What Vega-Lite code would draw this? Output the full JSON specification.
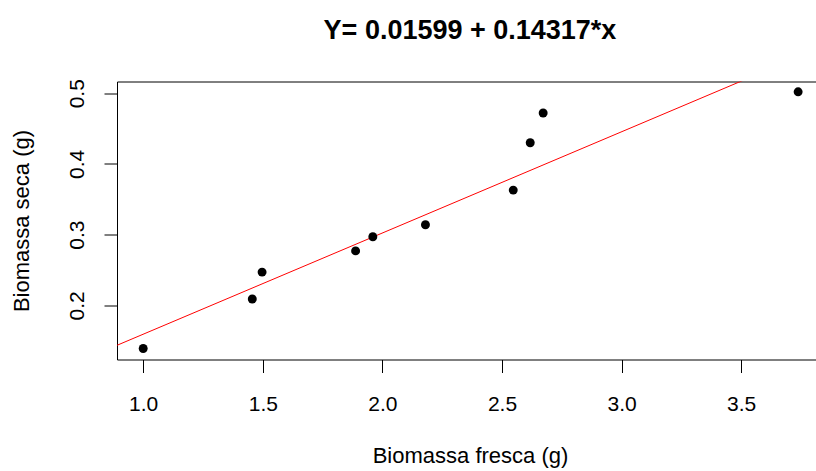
{
  "$schema": "https://vega.github.io/schema/vega-lite/v6.json",
  "width": 699,
  "height": 278,
  "autosize": {"type": "none"},
  "padding": {"left": 117, "top": 81.5, "right": 0, "bottom": 111.5},
  "background": "white",
  "config": {
    "view": {"stroke": null},
    "font": "Liberation Sans",
    "axis": {
      "domainColor": "#000000",
      "tickColor": "#000000",
      "labelColor": "#000000",
      "titleColor": "#000000",
      "grid": false,
      "labelFont": "Liberation Sans",
      "titleFont": "Liberation Sans",
      "labelFontSize": 21,
      "titleFontSize": 22,
      "titleFontWeight": "normal",
      "tickSize": 13,
      "domainWidth": 1,
      "tickWidth": 1
    }
  },
  "title": {
    "text": "Y= 0.01599 + 0.14317*x",
    "font": "Liberation Sans",
    "fontSize": 27,
    "fontWeight": "bold",
    "color": "#000000",
    "anchor": "middle",
    "frame": "group",
    "dx": 3.5,
    "dy": 32,
    "baseline": "alphabetic",
    "offset": 44.5
  },
  "datasets": {
    "pts": [
      {"fresca": 1.0, "seca": 0.139},
      {"fresca": 1.456, "seca": 0.209},
      {"fresca": 1.497, "seca": 0.247},
      {"fresca": 1.888, "seca": 0.277},
      {"fresca": 1.96, "seca": 0.297},
      {"fresca": 2.18, "seca": 0.314},
      {"fresca": 2.547, "seca": 0.363},
      {"fresca": 2.618, "seca": 0.43},
      {"fresca": 2.672, "seca": 0.472},
      {"fresca": 3.738, "seca": 0.502}
    ],
    "fit": [
      {"fresca": 0.85, "seca": 0.13769},
      {"fresca": 4.0, "seca": 0.58867}
    ]
  },
  "layer": [
    {
      "data": {"name": "fit"},
      "mark": {"type": "line", "color": "#ff0000", "strokeWidth": 1, "clip": true},
      "encoding": {
        "x": {
          "field": "fresca", "type": "quantitative",
          "scale": {"domain": [0.8905, 3.8127], "nice": false, "zero": false},
          "axis": {
            "orient": "bottom",
            "values": [1.0, 1.5, 2.0, 2.5, 3.0, 3.5],
            "format": ".1f",
            "labelBaseline": "alphabetic",
            "labelPadding": 37.7,
            "labelFlush": false,
            "labelOverlap": false,
            "title": "Biomassa fresca (g)",
            "titleBaseline": "alphabetic",
            "titleX": 353,
            "titleY": 103,
            "titleAnchor": "middle"
          }
        },
        "y": {
          "field": "seca", "type": "quantitative",
          "scale": {"domain": [0.1234, 0.5166], "nice": false, "zero": false},
          "axis": {
            "orient": "left",
            "values": [0.2, 0.3, 0.4, 0.5],
            "format": ".1f",
            "labelAngle": 270,
            "labelAlign": "center",
            "labelBaseline": "alphabetic",
            "labelPadding": 21,
            "labelFlush": false,
            "labelOverlap": false,
            "title": "Biomassa seca (g)",
            "titleAngle": 270,
            "titleBaseline": "alphabetic",
            "titleAlign": "center",
            "titleX": -89,
            "titleY": 139
          }
        }
      }
    },
    {
      "data": {"name": "pts"},
      "mark": {"type": "point", "filled": true, "color": "#000000", "opacity": 1, "size": 80, "shape": "circle"},
      "encoding": {
        "x": {
          "field": "fresca", "type": "quantitative",
          "axis": {
            "orient": "top",
            "labels": false,
            "ticks": false,
            "domain": true,
            "title": null
          }
        },
        "y": {"field": "seca", "type": "quantitative"}
      }
    }
  ],
  "resolve": {"axis": {"x": "independent"}}
}
